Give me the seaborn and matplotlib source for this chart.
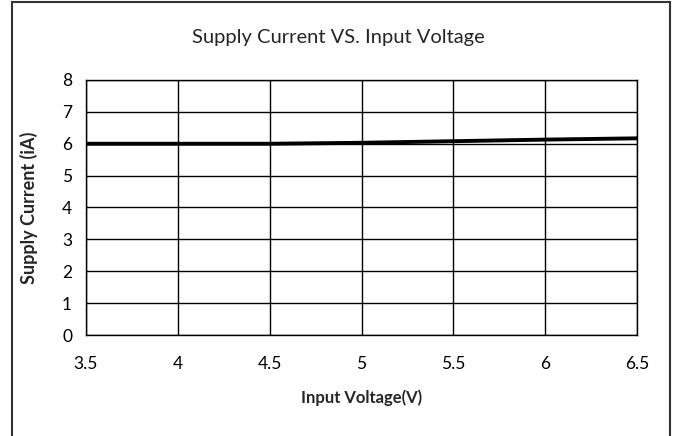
import matplotlib
matplotlib.use("Agg")
import matplotlib.pyplot as plt
import seaborn as sns
import pandas as pd
from matplotlib.patches import Rectangle

voltage = [3.5, 4.0, 4.5, 5.0, 5.5, 6.0, 6.5]
current = [6.0, 6.0, 6.0, 6.03, 6.08, 6.13, 6.17]
x_ticks = [3.5, 4, 4.5, 5, 5.5, 6, 6.5]
x_tick_labels = ["3.5", "4", "4.5", "5", "5.5", "6", "6.5"]
y_ticks = [0, 1, 2, 3, 4, 5, 6, 7, 8]

df = pd.DataFrame({"Input Voltage(V)": voltage, "Supply Current (iA)": current})

sns.set_theme(style="white")
plt.rcParams['font.family'] = ['Lato', 'DejaVu Sans']

fig = plt.figure(figsize=(6.77, 4.36), dpi=100)
ax = fig.add_axes([86/677, 1-335/436, (637-86)/677, (335-80)/436])

sns.lineplot(data=df, x="Input Voltage(V)", y="Supply Current (iA)", ax=ax,
             color="black", linewidth=2.8, zorder=3)

ax.set_xlim(3.5, 6.5)
ax.set_ylim(0, 8)
ax.set_xticks(x_ticks)
ax.set_xticklabels(x_tick_labels)
ax.set_yticks(y_ticks)
ax.grid(True, color="black", linewidth=1.0)
for s in ax.spines.values():
    s.set_color("black")
    s.set_linewidth(1.0)
ax.tick_params(axis="both", length=0, labelsize=12.5, colors="black")
ax.tick_params(axis="x", pad=15)
ax.tick_params(axis="y", pad=10)
ax.set_xlabel("Input Voltage(V)", fontsize=12, fontweight="bold", labelpad=13)
ax.set_ylabel("Supply Current (iA)", fontsize=13, fontweight="bold", labelpad=17)
fig.text(0.5, 1-37/436, "Supply Current VS. Input Voltage", ha="center", va="center", fontsize=14.5)

fig.patches.append(Rectangle((12/677, -0.1), (670-12)/677, 1.1 - 2/436,
                             transform=fig.transFigure, fill=False,
                             edgecolor="#333333", linewidth=1.5))

fig.savefig("out.png", dpi=100, facecolor="white")
